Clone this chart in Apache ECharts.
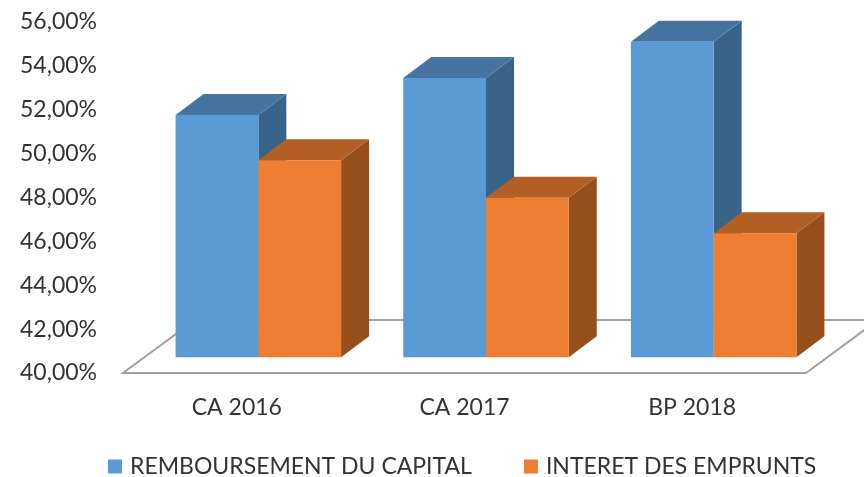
<!DOCTYPE html>
<html>
<head>
<meta charset="utf-8">
<style>
    html, body { margin: 0; padding: 0; background: #fff; }
    #chart { width: 864px; height: 477px; }
</style>
<script src="https://cdn.jsdelivr.net/npm/echarts@6/dist/echarts.min.js"></script>
</head>
<body>
<div id="chart"></div>
<script>
var categories = ['CA 2016', 'CA 2017', 'BP 2018'];
var remboursement = [51.05, 52.73, 54.38];
var interet = [48.98, 47.27, 45.65];
var yMin = 40, yMax = 56, yStep = 2;

var chart = echarts.init(document.getElementById('chart'));

var shiftX = 21.5, shiftY = 15.7;   // front face of the bars vs. the floor's front edge
var depthX = 28, depthY = 21;       // bar depth
var floorX = 72, floorY = 53;       // floor depth

function barRenderer(slot, front, top, side) {
    return function (params, api) {
        var i = api.value(0);
        var topPt = api.coord([i, api.value(1)]);
        var basePt = api.coord([i, yMin]);
        var w = api.size([1, 0])[0] * 0.3635;
        var x0 = topPt[0] + shiftX + slot * w;
        var x1 = x0 + w;
        var y0 = topPt[1] - shiftY;
        var y1 = basePt[1] - shiftY;
        function poly(points, color) {
            return { type: 'polygon', shape: { points: points }, style: { fill: color } };
        }
        return {
            type: 'group',
            children: [
                poly([[x1, y0], [x1 + depthX, y0 - depthY], [x1 + depthX, y1 - depthY], [x1, y1]], side),
                poly([[x0, y0], [x0 + depthX, y0 - depthY], [x1 + depthX, y0 - depthY], [x1, y0]], top),
                poly([[x0, y0], [x1, y0], [x1, y1], [x0, y1]], front)
            ]
        };
    };
}

function floorRenderer(params) {
    var g = params.coordSys;
    var b = g.y + g.height;
    return {
        type: 'polygon',
        shape: {
            points: [[g.x, b], [g.x + g.width, b], [g.x + g.width + floorX, b - floorY], [g.x + floorX, b - floorY]]
        },
        style: { fill: '#fff', stroke: '#a0a0a0', lineWidth: 2 }
    };
}

function pairs(values) {
    return values.map(function (v, i) { return [i, v]; });
}

var option = {
    animation: false,
    textStyle: { fontFamily: 'Lato' },
    grid: { left: 123, right: 58, top: 22, bottom: 104 },
    legend: {
        left: 103,
        top: 450,
        icon: 'rect',
        itemWidth: 14,
        itemHeight: 14,
        itemGap: 52,
        textStyle: { fontFamily: 'Lato', fontSize: 23, color: '#333', padding: [0, 0, 0, 3] },
        data: ['REMBOURSEMENT DU CAPITAL', 'INTERET DES EMPRUNTS']
    },
    xAxis: {
        type: 'category',
        data: categories,
        axisLine: { show: false },
        axisTick: { show: false },
        axisLabel: { margin: 23, fontFamily: 'Lato', fontSize: 23, color: '#333' }
    },
    yAxis: {
        type: 'value',
        min: yMin,
        max: yMax,
        interval: yStep,
        axisLine: { show: false },
        axisTick: { show: false },
        splitLine: { show: false },
        axisLabel: {
            margin: 26,
            fontFamily: 'Lato',
            fontSize: 23,
            color: '#333',
            formatter: function (v) { return v.toFixed(2).replace('.', ',') + '%'; }
        }
    },
    series: [
        {
            name: 'floor',
            type: 'custom',
            silent: true,
            clip: false,
            renderItem: floorRenderer,
            data: [[0, yMin]],
            z: 1
        },
        {
            name: 'REMBOURSEMENT DU CAPITAL',
            type: 'custom',
            clip: false,
            itemStyle: { color: '#5B9BD5' },
            renderItem: barRenderer(-1, '#5B9BD5', '#44749F', '#38648A'),
            encode: { x: 0, y: 1 },
            data: pairs(remboursement),
            z: 2
        },
        {
            name: 'INTERET DES EMPRUNTS',
            type: 'custom',
            clip: false,
            itemStyle: { color: '#ED7D31' },
            renderItem: barRenderer(0, '#ED7D31', '#B35E22', '#97501C'),
            encode: { x: 0, y: 1 },
            data: pairs(interet),
            z: 3
        }
    ]
};

chart.setOption(option);
</script>
</body>
</html>
